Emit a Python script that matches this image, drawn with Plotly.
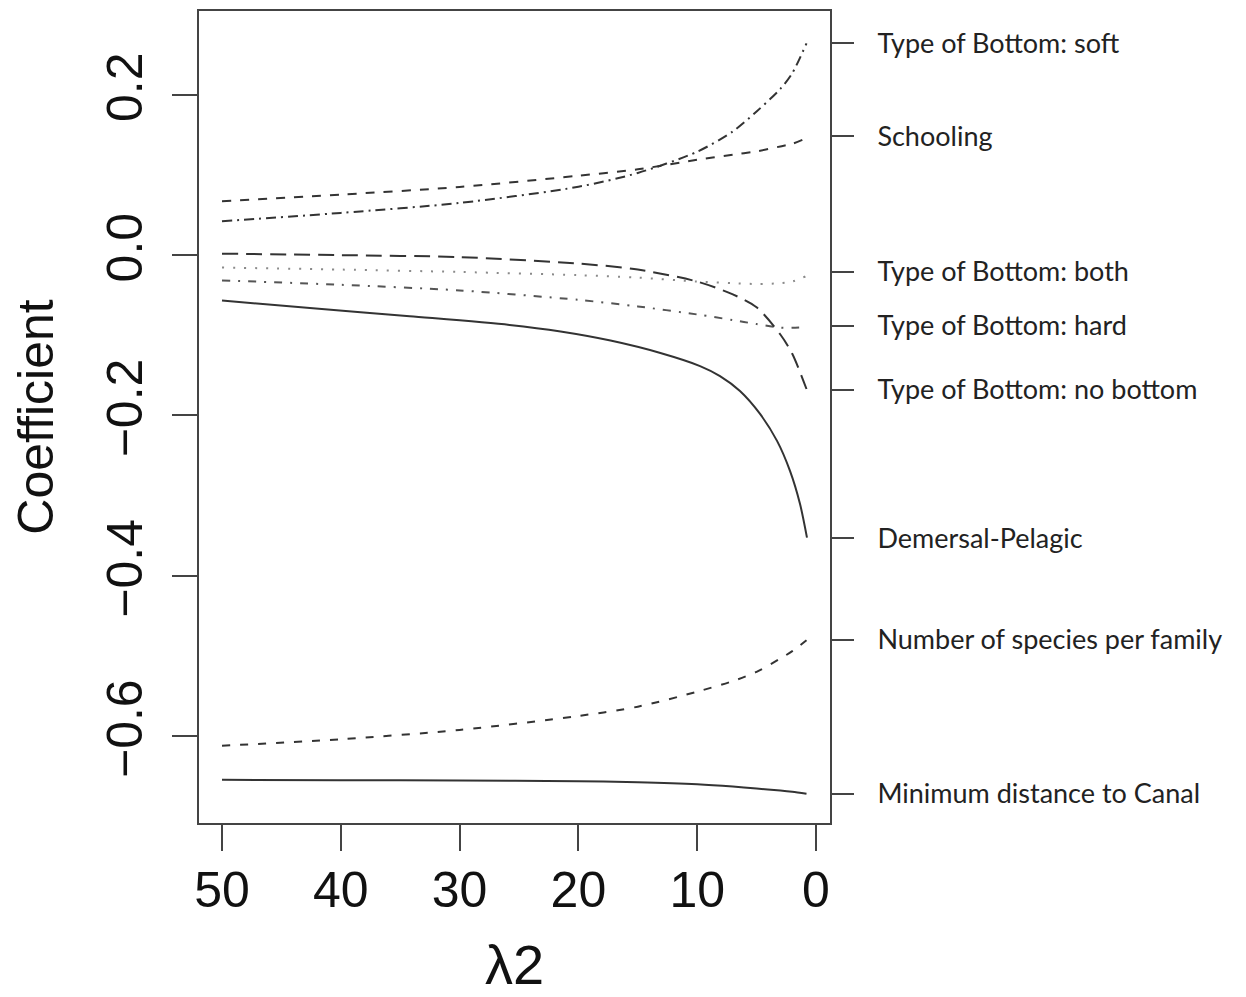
import plotly.graph_objects as go

# ---- data ----
lam = [50, 40, 30, 20, 15, 10, 7, 5, 3, 2, 0.8]
lam_dem = [50, 42.6, 34.2, 25.8, 21.5, 17.3, 13.1, 9.76, 8.08, 6.4, 4.71, 3.28, 2.19, 1.35, 0.76]

soft = [0.0423, 0.0527, 0.0651, 0.0853, 0.1025, 0.1290, 0.1543, 0.1792, 0.2074, 0.2269, 0.2642]
schooling = [0.0672, 0.0755, 0.0850, 0.0990, 0.1070, 0.1190, 0.1253, 0.1294, 0.1356, 0.1389, 0.1459]
both = [-0.0155, -0.0180, -0.0210, -0.0250, -0.0280, -0.0330, -0.0350, -0.0360, -0.0350, -0.0330, -0.0260]
hard = [-0.0315, -0.0370, -0.0440, -0.0558, -0.0640, -0.0740, -0.0810, -0.0860, -0.0905, -0.0905, -0.0896]
no_bottom = [0.0018, 0.0000, -0.0025, -0.0105, -0.0180, -0.0330, -0.0490, -0.0650, -0.0990, -0.1230, -0.1670]
demersal = [-0.0567, -0.0659, -0.0762, -0.0871, -0.0953, -0.1066, -0.1221, -0.1384, -0.1509,
            -0.1695, -0.1981, -0.2317, -0.2691, -0.3101, -0.3524]
n_species = [-0.6120, -0.6038, -0.5922, -0.5748, -0.5632, -0.5445, -0.5313, -0.5197, -0.5031, -0.4940, -0.4803]
min_dist = [-0.6545, -0.6549, -0.6553, -0.6562, -0.6574, -0.6599, -0.6628, -0.6653, -0.6678, -0.6694, -0.6719]

labels = ["Type of Bottom: soft", "Schooling", "Type of Bottom: both", "Type of Bottom: hard",
          "Type of Bottom: no bottom", "Demersal-Pelagic", "Number of species per family",
          "Minimum distance to Canal"]
label_y = [0.264, 0.148, -0.021, -0.088, -0.168, -0.353, -0.480, -0.672]

x_ticks = [50, 40, 30, 20, 10, 0]
y_ticks = [0.2, 0.0, -0.2, -0.4, -0.6]
y_ticktext = ["0.2", "0.0", "\u22120.2", "\u22120.4", "\u22120.6"]

# ---- figure ----
series = [
    (lam, soft, "#333333", "10px,5px,2px,5px"),
    (lam, schooling, "#333333", "9px,9px"),
    (lam, both, "#8a8a8a", "2px,9px"),
    (lam, hard, "#555555", "8px,8px,2px,8px"),
    (lam, no_bottom, "#333333", "16px,8px"),
    (lam_dem, demersal, "#333333", "solid"),
    (lam, n_species, "#333333", "8px,10px"),
    (lam, min_dist, "#333333", "solid"),
]

fig = go.Figure()
for (xs, ys, col, dash), name in zip(series, labels):
    fig.add_trace(go.Scatter(x=xs, y=ys, mode="lines", name=name,
                             line=dict(color=col, width=2, dash=dash, shape="spline", smoothing=0.8),
                             showlegend=False))

# invisible trace to activate right axis
fig.add_trace(go.Scatter(x=[lam[0]], y=[label_y[0]], yaxis="y2", mode="markers",
                         marker=dict(opacity=0), showlegend=False, hoverinfo="skip"))

yr = [-0.7083, 0.3045]
fig.update_layout(
    width=1238, height=989,
    margin=dict(l=191, r=416, t=1, b=174),
    paper_bgcolor="white", plot_bgcolor="white",
    xaxis=dict(range=[51.936, -1.178], tickvals=x_ticks, ticktext=[str(v) for v in x_ticks],
               ticks="outside", ticklen=26, tickwidth=2, tickcolor="#444",
               showline=True, linecolor="#444", linewidth=2, mirror=True,
               showgrid=False, zeroline=False,
               tickfont=dict(family="Liberation Sans", size=50, color="#111"),
               ticklabelstandoff=-4,
               title=dict(text="\u03bb2", font=dict(family="Liberation Sans", size=56, color="#111"),
                          standoff=28)),
    yaxis=dict(range=yr, tickvals=y_ticks, ticktext=y_ticktext, tickangle=-90,
               ticks="outside", ticklen=25, tickwidth=2, tickcolor="#444",
               showline=True, linecolor="#444", linewidth=2, mirror=True,
               showgrid=False, zeroline=False,
               tickfont=dict(family="Liberation Sans", size=50, color="#111"),
               ticklabelstandoff=10,
               title=dict(text="Coefficient", font=dict(family="Liberation Sans", size=50, color="#111"),
                          standoff=32)),
    yaxis2=dict(range=yr, overlaying="y", side="right", tickvals=label_y, ticktext=labels,
                ticks="outside", ticklen=23, tickwidth=2, tickcolor="#444",
                showline=False, showgrid=False, zeroline=False,
                tickfont=dict(family="Lato", size=27, color="#222"),
                ticklabelstandoff=18),
)

fig.write_html("out.html")
